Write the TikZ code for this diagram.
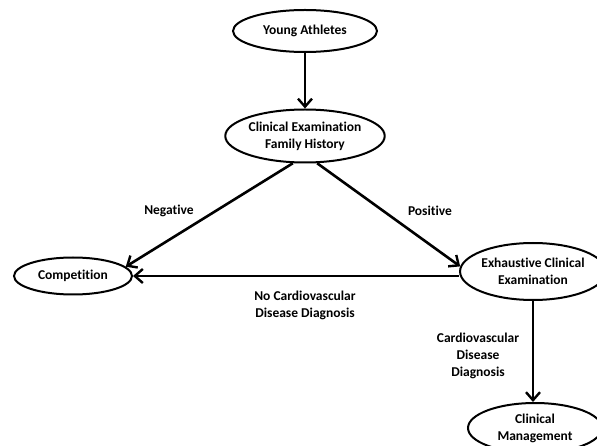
\documentclass[tikz,border=0pt]{standalone}
\usepackage{fontspec}
\setmainfont{Carlito}[Ligatures={NoCommon,NoContextual},Contextuals=NoAlternate]
\usetikzlibrary{shapes.geometric,arrows.meta}
\tikzset{
  oval/.style={ellipse, draw, line width=2pt, inner sep=0pt, align=center,
     font=\fontsize{13.5}{17}\selectfont\bfseries},
  lbl/.style={align=center, font=\fontsize{13.5}{17}\selectfont\bfseries},
  arr/.style={line width=2.6pt, -{Straight Barb[length=8pt,width=14pt,line width=2.4pt]}}
}
\begin{document}
\begin{tikzpicture}[x=1pt,y=-1pt]
\useasboundingbox (0,0) rectangle (597,446);
\node[oval, minimum width=144, minimum height=42] (ya) at (305,31) {Young Athletes};
\node[oval, minimum width=148, minimum height=53] (cefh) at (305,136) {Clinical Examination\\Family History};
\node[oval, minimum width=118, minimum height=37] (comp) at (73,276) {Compet\kern0pt it\kern0pt ion};
\node[oval, minimum width=132, minimum height=57] (exh) at (533,271.5) {Exhaustive Clinical\\Examination};
\node[oval, minimum width=134, minimum height=50] (cm) at (535,428) {Clinical\\Management};

\draw[arr] (ya.south) -- (cefh.north);
\draw[arr] (cefh.246) -- (comp.10);
\draw[arr] (cefh.294) -- (exh.176);
\draw[arr] (comp.east -| exh.west) -- (comp.east);
\draw[arr] (exh.south) -- (exh.south |- cm.north);

\node[lbl] (neg) at (169,211) {Negat\kern0pt ive};
\node[lbl] (pos) at (430,211) {Positive};
\node[lbl] (nocv) at (305,305.5) {No Cardiovascular\\Disease Diagnosis};
\node[lbl] (cv) at (478,356) {Cardiovascular\\Disease\\Diagnosis};
\end{tikzpicture}
\end{document}
